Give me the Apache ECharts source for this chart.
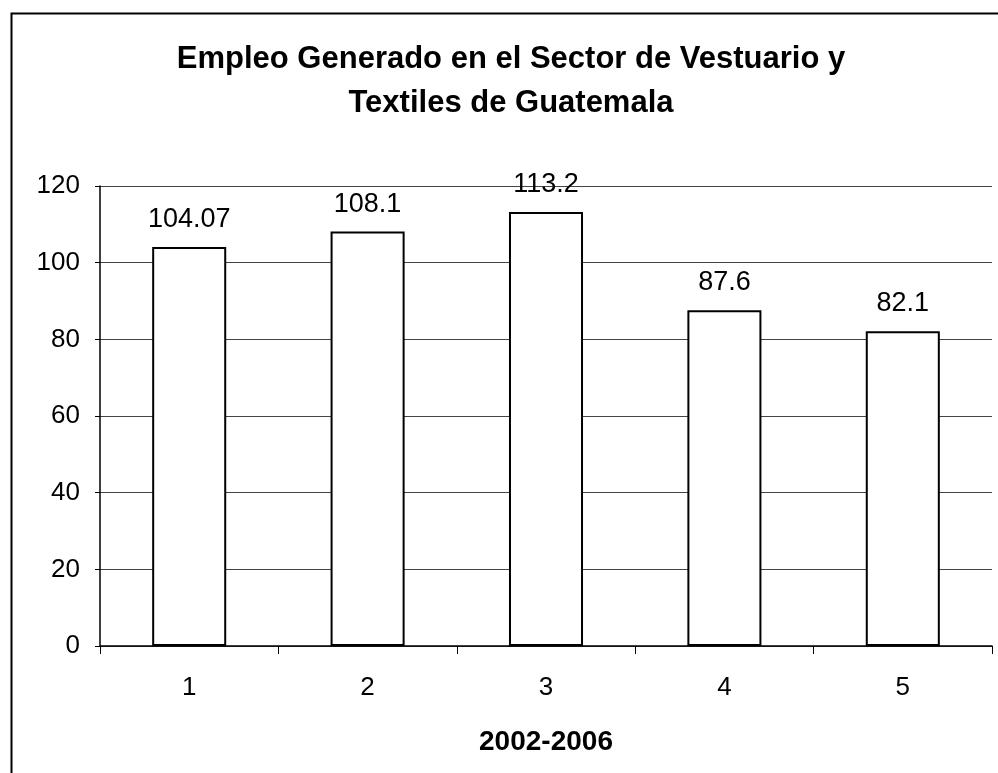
<!DOCTYPE html>
<html>
<head>
<meta charset="utf-8">
<script src="https://cdn.jsdelivr.net/npm/echarts@6/dist/echarts.min.js"></script>
<style>
html,body{margin:0;padding:0;background:#fff;}
#c{width:998px;height:773px;}
</style>
</head>
<body>
<div id="c"></div>
<script>
const titleText = 'Empleo Generado en el Sector de Vestuario y\nTextiles de Guatemala';
const categories = ['1', '2', '3', '4', '5'];
const values = [104.07, 108.1, 113.2, 87.6, 82.1];
const valueLabels = ['104.07', '108.1', '113.2', '87.6', '82.1'];
const xAxisName = '2002-2006';
const yTicks = [0, 20, 40, 60, 80, 100, 120];

const chart = echarts.init(document.getElementById('c'), null, {renderer: 'canvas'});
const font = 'Liberation Sans, Arial, sans-serif';
chart.setOption({
  animation: false,
  backgroundColor: '#fff',
  graphic: [{
    type: 'rect',
    left: 9, top: 11,
    shape: {width: 1100, height: 900},
    style: {fill: 'none', stroke: '#000', lineWidth: 2},
    silent: true, z: 100
  }],
  title: {
    text: titleText,
    left: 506,
    top: 32,
    textAlign: 'center',
    textStyle: {fontFamily: font, fontSize: 31, fontWeight: 'bold', color: '#000', lineHeight: 44}
  },
  grid: {left: 100, right: 6, top: 186, bottom: 127, containLabel: false},
  xAxis: {
    type: 'category',
    data: categories,
    name: xAxisName,
    nameLocation: 'middle',
    nameGap: 82,
    nameTextStyle: {fontFamily: font, fontSize: 28, fontWeight: 'bold', color: '#000'},
    axisLine: {lineStyle: {color: '#000', width: 1.5}},
    axisTick: {show: true, length: 8, lineStyle: {color: '#000', width: 1}},
    axisLabel: {fontFamily: font, fontSize: 26, color: '#000', margin: 29}
  },
  yAxis: {
    type: 'value',
    min: 0, max: 120, interval: 20,
    axisLine: {show: true, lineStyle: {color: '#000', width: 1.5}},
    axisTick: {show: true, length: 5, lineStyle: {color: '#000'}},
    axisLabel: {fontFamily: font, fontSize: 26, color: '#000', margin: 20,
      formatter: v => yTicks.includes(v) ? String(v) : ''},
    splitLine: {show: true, lineStyle: {color: '#444', width: 1}}
  },
  series: [{
    type: 'bar',
    data: values,
    barWidth: '41.5%',
    itemStyle: {color: '#fff', borderColor: '#000', borderWidth: 2},
    label: {
      show: true, position: 'top', distance: 14,
      fontFamily: font, fontSize: 27, color: '#000',
      formatter: p => valueLabels[p.dataIndex]
    }
  }]
});
</script>
</body>
</html>
